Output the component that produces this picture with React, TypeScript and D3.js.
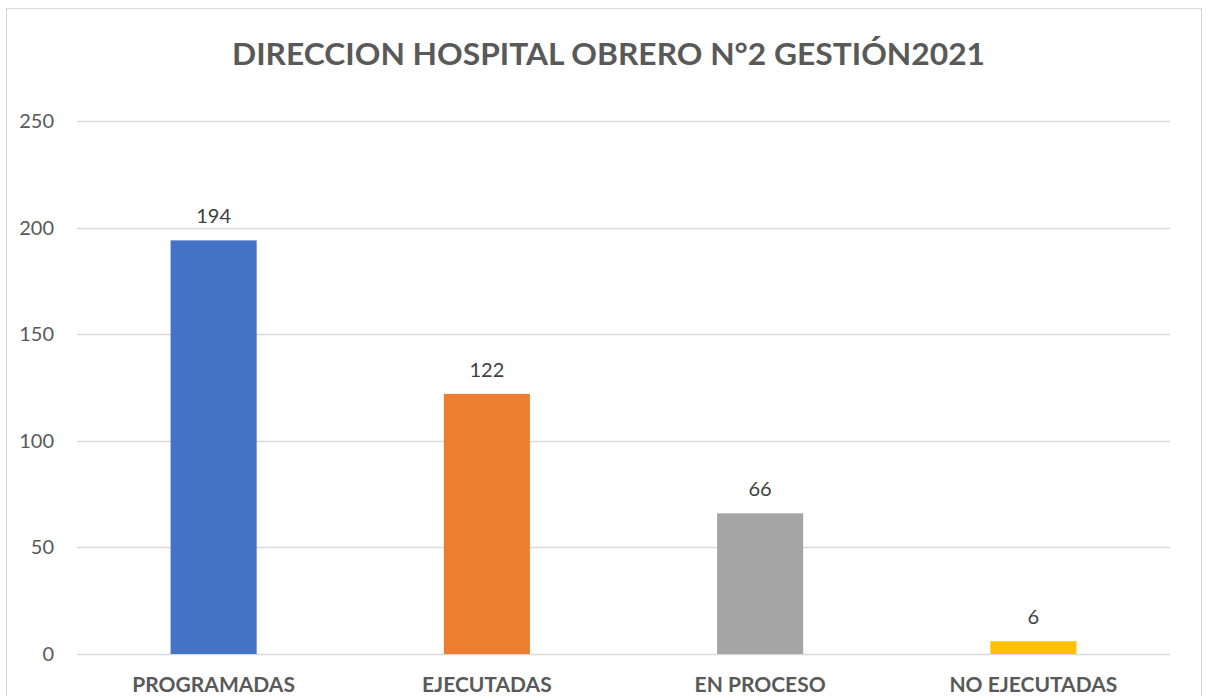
import { useRef, useEffect } from 'react'
import * as d3 from 'd3'

const categories = ['PROGRAMADAS', 'EJECUTADAS', 'EN PROCESO', 'NO EJECUTADAS']
const values = [194, 122, 66, 6]
const colors = ['#4472C4', '#ED7D31', '#A5A5A5', '#FFC000']
const yTicks = [0, 50, 100, 150, 200, 250]
const title = 'DIRECCION HOSPITAL OBRERO N°2 GESTIÓN2021'

const W = 1206
const H = 696
const FONT = 'Lato, "Open Sans", sans-serif'

export default function App() {
  const svgRef = useRef<SVGSVGElement>(null)

  useEffect(() => {
    if (!svgRef.current) return
    const svg = d3.select(svgRef.current)
    svg.selectAll('*').remove()

    const left = 77
    const right = 1170
    const top = 121
    const bottom = 654

    // frame
    svg.append('rect')
      .attr('x', 6.5).attr('y', 8.5)
      .attr('width', 1195).attr('height', 700)
      .attr('fill', '#fff').attr('stroke', '#D9D9D9')

    const x = d3.scaleBand().domain(categories).range([left, right]).paddingInner(0.685).paddingOuter(0.3425)
    const y = d3.scaleLinear().domain([0, 250]).range([bottom, top])

    // gridlines
    svg.append('g')
      .selectAll('line')
      .data(yTicks)
      .join('line')
      .attr('x1', left).attr('x2', right)
      .attr('y1', (d) => Math.round(y(d)) + 0.5)
      .attr('y2', (d) => Math.round(y(d)) + 0.5)
      .attr('stroke', '#D9D9D9').attr('stroke-width', 1.5)

    // y labels
    svg.append('g')
      .selectAll('text')
      .data(yTicks)
      .join('text')
      .attr('x', 54)
      .attr('y', (d) => y(d))
      .attr('dy', '0.35em')
      .attr('text-anchor', 'end')
      .attr('fill', '#595959')
      .attr('font-family', FONT)
      .attr('font-size', 20)
      .text((d) => d)

    // bars
    svg.append('g')
      .selectAll('rect')
      .data(values)
      .join('rect')
      .attr('x', (_d, i) => x(categories[i])!)
      .attr('width', x.bandwidth())
      .attr('y', (d) => y(d))
      .attr('height', (d) => bottom - y(d))
      .attr('fill', (_d, i) => colors[i])

    // value labels
    svg.append('g')
      .selectAll('text')
      .data(values)
      .join('text')
      .attr('x', (_d, i) => x(categories[i])! + x.bandwidth() / 2)
      .attr('y', (d) => y(d) - 17)
      .attr('text-anchor', 'middle')
      .attr('fill', '#404040')
      .attr('font-family', FONT)
      .attr('font-size', 20)
      .text((d) => d)

    // category labels
    svg.append('g')
      .selectAll('text')
      .data(categories)
      .join('text')
      .attr('x', (d) => x(d)! + x.bandwidth() / 2)
      .attr('y', 692)
      .attr('text-anchor', 'middle')
      .attr('fill', '#595959')
      .attr('font-family', FONT)
      .attr('font-weight', 700)
      .attr('font-size', 21)
      .text((d) => d)

    // title
    svg.append('text')
      .attr('x', 608.5)
      .attr('y', 65)
      .attr('text-anchor', 'middle')
      .attr('fill', '#595959')
      .attr('font-family', FONT)
      .attr('font-weight', 700)
      .attr('font-size', 31)
      .attr('textLength', 753)
      .attr('lengthAdjust', 'spacingAndGlyphs')
      .text(title)
  }, [])

  return (
    <div style={{ position: 'absolute', left: 0, top: 0 }}>
      <svg ref={svgRef} width={W} height={H} style={{ display: 'block' }} />
    </div>
  )
}
